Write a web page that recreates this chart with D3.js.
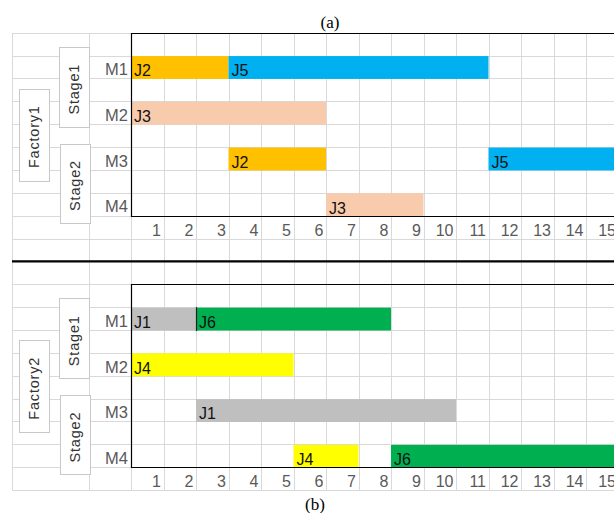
<!DOCTYPE html>
<html>
<head>
<meta charset="utf-8">
<script src="https://cdn.jsdelivr.net/npm/d3@7"></script>
<style>
  html, body { margin: 0; padding: 0; background: #fff; }
  svg { display: block; }
</style>
</head>
<body>
<svg id="chart" width="614" height="513"></svg>
<script>
// Two-factory hybrid flow shop schedule (Gantt chart on a spreadsheet grid)
const machines = ["M1", "M2", "M3", "M4"];
const stages = ["Stage1", "Stage2"];
const factories = ["Factory1", "Factory2"];
const panelTitles = ["(a)", "(b)"];
const timeTicks = [1, 2, 3, 4, 5, 6, 7, 8, 9, 10, 11, 12, 13, 14, 15];

const jobColors = {
  J1: "#BFBFBF", J2: "#FFC000", J3: "#F8CBAD",
  J4: "#FFFF00", J5: "#00B0F0", J6: "#00B050"
};

// operations: [job, machine, start, end]
const factory1Ops = [
  ["J2", "M1", 0, 3], ["J5", "M1", 3, 11],
  ["J3", "M2", 0, 6],
  ["J2", "M3", 3, 6], ["J5", "M3", 11, 19],
  ["J3", "M4", 6, 9]
];
const factory2Ops = [
  ["J1", "M1", 0, 2], ["J6", "M1", 2, 8],
  ["J4", "M2", 0, 5],
  ["J1", "M3", 2, 10],
  ["J4", "M4", 5, 7], ["J6", "M4", 8, 16]
];
const panels = [factory1Ops, factory2Ops];

const W = 614, H = 513;
const svg = d3.select("#chart");

const gridTop = 32.7, rowH = 22.87, nRows = 20;
const gridLeft = 12, labelCol = 89, chartLeft = 131, colW = 32.5;
const gridGray = "#D9D9D9";

const x = d3.scaleLinear().domain([0, 15]).range([chartLeft, chartLeft + 15 * colW]);
const rowY = d3.scaleLinear().domain([0, nRows]).range([gridTop, gridTop + nRows * rowH]);

// spreadsheet grid
const grid = svg.append("g").attr("shape-rendering", "crispEdges");
grid.selectAll("line.h").data(d3.range(0, nRows + 1).filter(i => i !== 10))
  .join("line")
  .attr("x1", gridLeft).attr("x2", W)
  .attr("y1", d => Math.round(rowY(d)) + 0.5).attr("y2", d => Math.round(rowY(d)) + 0.5)
  .attr("stroke", gridGray);
const vCols = [gridLeft, labelCol].concat(d3.range(0, 16).map(k => x(k)));
grid.selectAll("line.v").data(vCols)
  .join("line")
  .attr("x1", d => Math.round(d) + 0.5).attr("x2", d => Math.round(d) + 0.5)
  .attr("y1", rowY(0)).attr("y2", rowY(nRows))
  .attr("stroke", gridGray);

// thick divider between the two factories
svg.append("line")
  .attr("x1", gridLeft).attr("x2", W)
  .attr("y1", rowY(10)).attr("y2", rowY(10))
  .attr("stroke", "#000").attr("stroke-width", 2.2);

const panelRowStart = [0, 11];

panels.forEach((ops, p) => {
  const top = rowY(panelRowStart[p]);
  const bottom = rowY(panelRowStart[p] + 8);
  const g = svg.append("g");

  const y = d3.scaleBand().domain(machines)
    .range([top, bottom]).paddingInner(0.5).paddingOuter(0.25).align(1);

  // bars
  g.selectAll("rect.op").data(ops).join("rect")
    .attr("x", d => x(d[2]))
    .attr("width", d => x(d[3]) - x(d[2]))
    .attr("y", d => y(d[1]) + 0.5)
    .attr("height", y.bandwidth())
    .attr("fill", d => jobColors[d[0]]);

  // dark edge where J6 follows J1 on M1
  g.selectAll("line.edge").data(ops.filter(d => d[0] === "J6" && d[1] === "M1"))
    .join("line")
    .attr("x1", d => Math.round(x(d[2])) + 0.5).attr("x2", d => Math.round(x(d[2])) + 0.5)
    .attr("y1", d => y(d[1])).attr("y2", d => y(d[1]) + y.bandwidth() + 1)
    .attr("stroke", "#222").attr("stroke-width", 1.2);

  // job labels
  g.selectAll("text.job").data(ops).join("text")
    .attr("x", d => x(d[2]) + 3)
    .attr("y", d => y(d[1]) + y.bandwidth() - 2)
    .attr("font-family", "'Liberation Sans', Arial, sans-serif")
    .attr("font-size", 16)
    .attr("fill", "#111")
    .text(d => d[0]);

  // chart frame (open on the right)
  g.append("path")
    .attr("d", `M${W + 5},${Math.round(top) + 0.5}H${Math.round(chartLeft) + 0.5}V${Math.round(bottom) + 0.5}H${W + 5}`)
    .attr("fill", "none").attr("stroke", "#000").attr("stroke-width", 1.2);

  // machine axis
  const yAxis = g.append("g")
    .attr("transform", `translate(${chartLeft - 1},0)`)
    .call(d3.axisLeft(y).tickSize(0).tickPadding(2));
  yAxis.select(".domain").remove();
  yAxis.selectAll("text")
    .attr("font-family", "'Liberation Sans', Arial, sans-serif")
    .attr("font-size", 16.5).attr("fill", "#595959")
    .attr("dy", "0.5em");

  // time axis (numbers right-aligned in their columns)
  const xAxis = g.append("g")
    .attr("transform", `translate(0,${bottom})`)
    .call(d3.axisBottom(x).tickValues(timeTicks).tickSize(0).tickFormat(d3.format("d")));
  xAxis.select(".domain").remove();
  xAxis.selectAll("text")
    .attr("text-anchor", "end")
    .attr("x", -3)
    .attr("y", rowH - 3)
    .attr("dy", 0)
    .attr("font-family", "'Liberation Sans', Arial, sans-serif")
    .attr("font-size", 16).attr("fill", "#595959");

  // factory / stage boxes with rotated captions
  const boxes = [
    { label: factories[p], x0: 19.3, x1: 49.5, y0: 56, y1: 148, tdy: 2 },
    { label: stages[0], x0: 58.7, x1: 88.7, y0: 14.2, y1: 93.8, tdy: 2.5 },
    { label: stages[1], x0: 59.7, x1: 90, y0: 110.8, y1: 189.8, tdy: 2.5 }
  ];
  const bg = g.append("g");
  boxes.forEach(b => {
    bg.append("rect")
      .attr("x", Math.round(b.x0) + 0.5).attr("y", Math.round(top + b.y0) + 0.5)
      .attr("width", Math.round(b.x1 - b.x0)).attr("height", Math.round(b.y1 - b.y0))
      .attr("fill", "#fff").attr("stroke", "#C8C8C8").attr("stroke-width", 1);
    const cx = (b.x0 + b.x1) / 2, cy = top + (b.y0 + b.y1) / 2 + b.tdy;
    bg.append("text")
      .attr("transform", `translate(${cx + 5},${cy}) rotate(-90)`)
      .attr("text-anchor", "middle")
      .attr("font-family", "'Liberation Sans', Arial, sans-serif")
      .attr("font-size", 14.5)
      .attr("letter-spacing", 0.8)
      .attr("fill", "#333")
      .text(b.label);
  });
});

// panel captions
svg.append("text").attr("x", 330).attr("y", 27.5)
  .attr("text-anchor", "middle")
  .attr("font-family", "'Liberation Serif', 'Times New Roman', serif")
  .attr("font-size", 17).attr("fill", "#000")
  .text(panelTitles[0]);
svg.append("text").attr("x", 315).attr("y", 510)
  .attr("text-anchor", "middle")
  .attr("font-family", "'Liberation Serif', 'Times New Roman', serif")
  .attr("font-size", 17).attr("fill", "#000")
  .text(panelTitles[1]);
</script>
</body>
</html>
